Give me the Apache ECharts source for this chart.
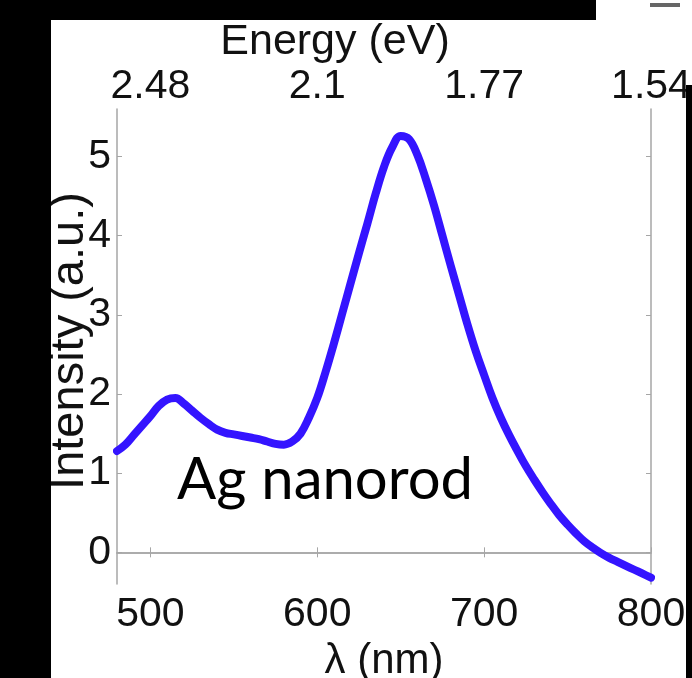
<!DOCTYPE html>
<html>
<head>
<meta charset="utf-8">
<script src="https://cdn.jsdelivr.net/npm/echarts@6/dist/echarts.min.js"></script>
<style>
  html, body { margin: 0; padding: 0; background: #fff; }
  #chart { width: 692px; height: 678px; }
</style>
</head>
<body>
<div id="chart"></div>
<script>
// Scattering spectrum of a silver nanorod
const wavelengthNm = [
  480, 485, 490, 495, 500, 505, 510, 515, 520, 525,
  530, 535, 540, 545, 550, 555, 560, 565, 570, 575,
  580, 585, 590, 595, 600, 605, 610, 615, 620, 625,
  630, 635, 640, 645, 650, 655, 660, 665, 670, 675,
  680, 685, 690, 695, 700, 705, 710, 715, 720, 725,
  730, 735, 740, 745, 750, 755, 760, 765, 770, 775,
  780, 785, 790, 795, 800
];
const intensity = [
  1.28, 1.36, 1.48, 1.60, 1.72, 1.85, 1.93, 1.95, 1.88, 1.79,
  1.70, 1.62, 1.55, 1.51, 1.49, 1.47, 1.45, 1.43, 1.40, 1.37,
  1.36, 1.40, 1.50, 1.70, 1.95, 2.28, 2.64, 3.02, 3.40, 3.78,
  4.15, 4.53, 4.87, 5.12, 5.26, 5.22, 5.02, 4.72, 4.38, 4.00,
  3.62, 3.25, 2.88, 2.54, 2.24, 1.95, 1.70, 1.48, 1.28, 1.09,
  0.92, 0.76, 0.61, 0.47, 0.35, 0.24, 0.14, 0.06, -0.01, -0.07,
  -0.12, -0.17, -0.22, -0.27, -0.32
];
const wavelengthTicks = [500, 600, 700, 800];
const energyTickLabels = ['2.48', '2.1', '1.77', '1.54'];
const intensityTicks = [0, 1, 2, 3, 4, 5];

const axisGray = '#a6a6a6';
const textColor = '#111';
const tickFont = { fontFamily: 'Liberation Sans', fontSize: 41, color: textColor };

const chart = echarts.init(document.getElementById('chart'));

chart.setOption({
  backgroundColor: '#ffffff',
  animation: false,
  grid: { left: 117, top: 109, width: 534, height: 475, containLabel: false, outerBoundsMode: 'none' },
  xAxis: [
    {
      type: 'value', position: 'bottom', min: 480, max: 800,
      name: 'λ (nm)', nameLocation: 'middle', nameGap: 44,
      nameTextStyle: { fontFamily: 'Liberation Sans', fontSize: 42, color: textColor },
      axisLine: { show: true, lineStyle: { color: axisGray, width: 1.5 } },
      axisTick: { show: true, inside: true, length: 5, customValues: wavelengthTicks, lineStyle: { color: axisGray } },
      axisLabel: Object.assign({ customValues: wavelengthTicks, margin: 10, lineHeight: 42 }, tickFont),
      splitLine: { show: false }
    },
    {
      type: 'value', position: 'top', min: 480, max: 800,
      axisLine: { show: true, lineStyle: { color: axisGray, width: 1.5 } },
      axisTick: { show: true, inside: true, length: 5, customValues: wavelengthTicks.slice(0, 3), lineStyle: { color: axisGray } },
      axisLabel: Object.assign({
        customValues: wavelengthTicks, margin: 1, lineHeight: 42,
        formatter: v => energyTickLabels[wavelengthTicks.indexOf(v)]
      }, tickFont),
      splitLine: { show: false }
    }
  ],
  yAxis: [
    {
      type: 'value', position: 'left', min: -0.4, max: 5.6,
      axisLine: { show: true, lineStyle: { color: axisGray, width: 1.5 } },
      axisTick: { show: true, inside: true, length: 5, customValues: intensityTicks, lineStyle: { color: axisGray } },
      axisLabel: Object.assign({ customValues: intensityTicks, margin: 6 }, tickFont),
      splitLine: { show: false }
    },
    {
      type: 'value', position: 'right', min: -0.4, max: 5.6,
      axisLine: { show: true, lineStyle: { color: axisGray, width: 1.5 } },
      axisTick: { show: true, inside: true, length: 5, customValues: intensityTicks, lineStyle: { color: axisGray } },
      axisLabel: { show: false },
      splitLine: { show: false }
    }
  ],
  series: [{
    type: 'line',
    xAxisIndex: 0,
    yAxisIndex: 0,
    data: wavelengthNm.map((w, i) => [w, intensity[i]]),
    smooth: 0.4,
    showSymbol: false,
    lineStyle: { color: '#3414ff', width: 8, cap: 'round', join: 'round' },
    z: 3
  }],
  graphic: [
    // dark frame strips around the figure
    { type: 'rect', left: 0, top: 0, shape: { width: 51, height: 678 }, style: { fill: '#000' }, z: 10 },
    { type: 'rect', left: 0, top: 0, shape: { width: 596, height: 20 }, style: { fill: '#000' }, z: 10 },
    { type: 'rect', left: 686, top: 85, shape: { width: 6, height: 593 }, style: { fill: '#000' }, z: 10 },
    { type: 'rect', left: 650, top: 3, shape: { width: 30, height: 4 }, style: { fill: '#666' }, z: 10 },
    {
      type: 'text', x: 335, y: 42,
      style: { text: 'Energy (eV)', font: '43px "Liberation Sans"', fill: textColor, align: 'center', verticalAlign: 'middle' },
      z: 5
    },
    {
      type: 'text', x: 70, y: 341, rotation: Math.PI / 2,
      style: { text: 'Intensity (a.u.)', font: '47px "Liberation Sans"', fill: textColor, align: 'center', verticalAlign: 'middle' },
      z: 5
    },
    {
      type: 'text', x: 177, y: 480,
      style: { text: 'Ag nanorod', font: '58px Lato', fill: '#000', align: 'left', verticalAlign: 'middle' },
      z: 5
    }
  ]
});
</script>
</body>
</html>
